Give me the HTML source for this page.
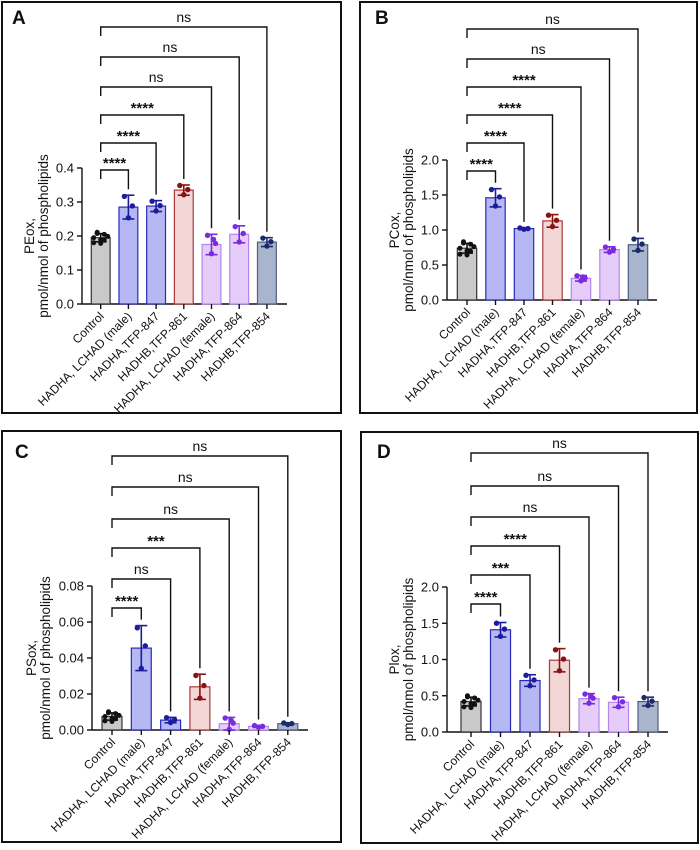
<!DOCTYPE html>
<html><head><meta charset="utf-8"><style>
html,body{margin:0;padding:0;background:#fff;}
svg text{font-family:"Liberation Sans",Arial,sans-serif;fill:#111;}
</style></head><body>
<svg id="s" width="700" height="845" viewBox="0 0 700 845" xmlns="http://www.w3.org/2000/svg"></svg>
<script>
const S=document.getElementById('s');let h='';
const cats=["Control","HADHA, LCHAD (male)","HADHA,TFP-847","HADHB,TFP-861","HADHA, LCHAD (female)","HADHA,TFP-864","HADHB,TFP-854"];
const fills=["#c9c9c9","#b5b8f2","#b5b8f2","#f3d6d6","#e6ccf9","#e6ccf9","#a9b5cc"];
const strokes=["#333","#2a2ab8","#2a2ab8","#a83a3a","#b585f0","#b585f0","#4e5e82"];
const dots=["#111","#1c1c9c","#1c1c9c","#8c1212","#7a2ae0","#7a2ae0","#1c2a6c"];
const P=[
{box:[2,2,339,411],L:"A",lp:[12,24],ax:82,y0:304,yt:168,max:0.4,ticks:[0,0.1,0.2,0.3,0.4],dec:1,c0:100.7,sp:27.7,xend:287,
 br:[170,143,115,87,57,27],lab:["****","****","****","ns","ns","ns"],ylab:"PEox,",
 v:[0.195,0.285,0.288,0.335,0.175,0.205,0.182],sd:[0.012,0.035,0.016,0.015,0.03,0.025,0.013]},
{box:[360,2,337,411],L:"B",lp:[375,24],ax:447,y0:300,yt:160,max:2,ticks:[0,0.5,1,1.5,2],dec:1,c0:467,sp:28.5,xend:657,
 br:[171,143,115,87,59,29],lab:["****","****","****","****","ns","ns"],ylab:"PCox,",
 v:[0.74,1.46,1.02,1.13,0.31,0.72,0.79],sd:[0.07,0.13,0.01,0.09,0.04,0.04,0.09]},
{box:[2,431,339,411],L:"C",lp:[15,458],ax:92,y0:730,yt:586,max:0.08,ticks:[0,0.02,0.04,0.06,0.08],dec:2,c0:112,sp:29.3,xend:308,
 br:[608,579,548,519,487,456],lab:["****","ns","***","ns","ns","ns"],ylab:"PSox,",
 v:[0.0075,0.0455,0.0055,0.024,0.0035,0.002,0.0035],sd:[0.002,0.0125,0.0015,0.007,0.0035,0.0005,0.0005]},
{box:[361,432,337,411],L:"D",lp:[377,458],ax:447,y0:732,yt:587,max:2,ticks:[0,0.5,1,1.5,2],dec:1,c0:471,sp:29.5,xend:668,
 br:[604,575,546,517,486,453],lab:["****","***","****","ns","ns","ns"],ylab:"Plox,",
 v:[0.42,1.41,0.71,0.99,0.46,0.41,0.42],sd:[0.06,0.1,0.08,0.16,0.07,0.07,0.06]}
];
P.forEach(p=>{
 const [bx,by,bw,bh]=p.box;
 h+=`<rect x="${bx}" y="${by}" width="${bw}" height="${bh}" fill="none" stroke="#111" stroke-width="2"/>`;
 h+=`<text x="${p.lp[0]}" y="${p.lp[1]}" font-size="19" font-weight="bold">${p.L}</text>`;
 const Y=v=>p.y0-(v/p.max)*(p.y0-p.yt);
 h+=`<line x1="${p.ax}" y1="${p.yt}" x2="${p.ax}" y2="${p.y0}" stroke="#111" stroke-width="1.4"/>`;
 h+=`<line x1="${p.ax}" y1="${p.y0}" x2="${p.xend}" y2="${p.y0}" stroke="#111" stroke-width="1.4"/>`;
 p.ticks.forEach(t=>{const y=Y(t);h+=`<line x1="${p.ax-5}" y1="${y}" x2="${p.ax}" y2="${y}" stroke="#111" stroke-width="1.4"/><text x="${p.ax-8}" y="${y+4.5}" font-size="13" text-anchor="end">${t.toFixed(p.dec)}</text>`;});
 const ym=(p.y0+p.yt)/2, lx=p.ax-(p.dec==2?44:36);
 h+=`<text transform="translate(${lx-12},${ym}) rotate(-90)" font-size="13.5" text-anchor="middle">${p.ylab}</text>`;
 h+=`<text transform="translate(${lx+2},${ym}) rotate(-90)" font-size="13.5" text-anchor="middle">pmol/nmol of phospholipids</text>`;
 const bwid=p.sp*0.68;
 const tops=[];
 p.v.forEach((v,i)=>{
  const cx=p.c0+i*p.sp, y=Y(v);
  h+=`<rect x="${cx-bwid/2}" y="${y}" width="${bwid}" height="${p.y0-y}" fill="${fills[i]}" stroke="${strokes[i]}" stroke-width="1.2"/>`;
  const yu=Y(v+p.sd[i]), yd=Y(Math.max(0,v-p.sd[i]));
  const ec=dots[i];
  h+=`<line x1="${cx}" y1="${yu}" x2="${cx}" y2="${yd}" stroke="${ec}" stroke-width="1.6"/><line x1="${cx-6}" y1="${yu}" x2="${cx+6}" y2="${yu}" stroke="${ec}" stroke-width="1.6"/><line x1="${cx-6}" y1="${yd}" x2="${cx+6}" y2="${yd}" stroke="${ec}" stroke-width="1.6"/>`;
  let top=yu;
  if(i==0){
   for(let k=0;k<9;k++){const dv=(Math.sin(k*2.3)*1.4)*p.sd[0];const dx=((k%5)-2)*3.5;const yy=Y(v+dv);top=Math.min(top,yy);h+=`<circle cx="${cx+dx}" cy="${yy}" r="2.5" fill="${ec}"/>`;}
  } else {
   const n=i==4?4:3;
   for(let k=0;k<n;k++){const dv=[0.9,-0.9,0.1,0.5][k]*p.sd[i];const dx=[-4,0,4,2][k];const yy=Y(v+dv);top=Math.min(top,yy);h+=`<circle cx="${cx+dx}" cy="${yy}" r="2.7" fill="${ec}"/>`;}
  }
  tops.push(top);
  h+=`<line x1="${cx}" y1="${p.y0}" x2="${cx}" y2="${p.y0+5}" stroke="#111" stroke-width="1.4"/>`;
  h+=`<text transform="translate(${cx+4},${p.y0+13}) rotate(-45)" font-size="12" text-anchor="end">${cats[i]}</text>`;
 });
 p.br.forEach((by2,j)=>{
  const i=j+1, cx=p.c0+i*p.sp, x0=p.c0;
  const yr=Math.max(by2+4,tops[i]-6);
  h+=`<polyline points="${x0},${by2+9} ${x0},${by2} ${cx},${by2} ${cx},${yr}" fill="none" stroke="#111" stroke-width="1.4"/>`;
  const isns=p.lab[j]=="ns";
  h+=`<text x="${(x0+cx)/2}" y="${by2-(isns?5:2)}" font-size="${isns?14:15}" ${isns?'':'font-weight="bold"'} text-anchor="middle">${p.lab[j]}</text>`;
 });
});
S.innerHTML=h;
</script>
</body></html>
